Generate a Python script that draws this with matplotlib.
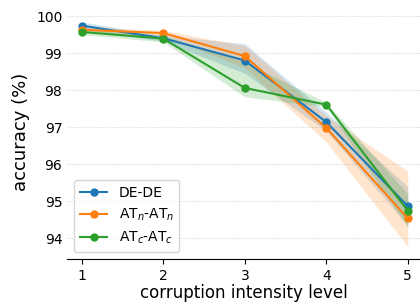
import matplotlib
matplotlib.use("Agg")
import matplotlib.pyplot as plt
import numpy as np

levels = [1, 2, 3, 4, 5]

de_mean = [99.74, 99.40, 98.80, 97.14, 94.87]
de_lo = [99.64, 99.32, 98.45, 96.90, 94.35]
de_hi = [99.84, 99.48, 99.25, 97.40, 95.40]

atn_mean = [99.63, 99.54, 98.92, 96.98, 94.54]
atn_lo = [99.55, 99.47, 98.60, 96.60, 93.78]
atn_hi = [99.71, 99.61, 99.20, 97.30, 95.82]

atc_mean = [99.57, 99.39, 98.06, 97.61, 94.75]
atc_lo = [99.50, 99.30, 97.82, 97.55, 94.30]
atc_hi = [99.64, 99.48, 98.75, 97.67, 95.20]

labels = ['DE-DE', r'AT$_n$-AT$_n$', r'AT$_c$-AT$_c$']
colors = ['#1f77b4', '#ff7f0e', '#2ca02c']

fig, ax = plt.subplots(figsize=(4.2, 3.06), dpi=100)
fig.subplots_adjust(left=0.16, right=1.0, bottom=0.154, top=0.984)

series = [(de_mean, de_lo, de_hi), (atn_mean, atn_lo, atn_hi), (atc_mean, atc_lo, atc_hi)]
for (m, lo, hi), lab, c in zip(series, labels, colors):
    ax.fill_between(levels, lo, hi, color=c, alpha=0.2, linewidth=0)
    ax.plot(levels, m, marker='o', markersize=5, color=c, label=lab, linewidth=1.5)

ax.set_xlim(0.82, 5.15)
ax.set_ylim(93.45, 100.3)
ax.set_xticks(levels)
ax.set_yticks([94, 95, 96, 97, 98, 99, 100])
ax.grid(True, axis='y', linestyle=(0, (1, 1)), color='#dddddd', linewidth=0.8)
ax.set_axisbelow(True)
for s in ['top', 'right', 'left']:
    ax.spines[s].set_visible(False)
ax.tick_params(axis='y', length=0, labelsize=10)
ax.tick_params(axis='x', labelsize=10)
ax.set_xlabel('corruption intensity level', fontsize=12, labelpad=1)
ax.set_ylabel('accuracy (%)', fontsize=13)
ax.legend(loc='lower left', fontsize=10)

plt.savefig('out.png', dpi=100)
